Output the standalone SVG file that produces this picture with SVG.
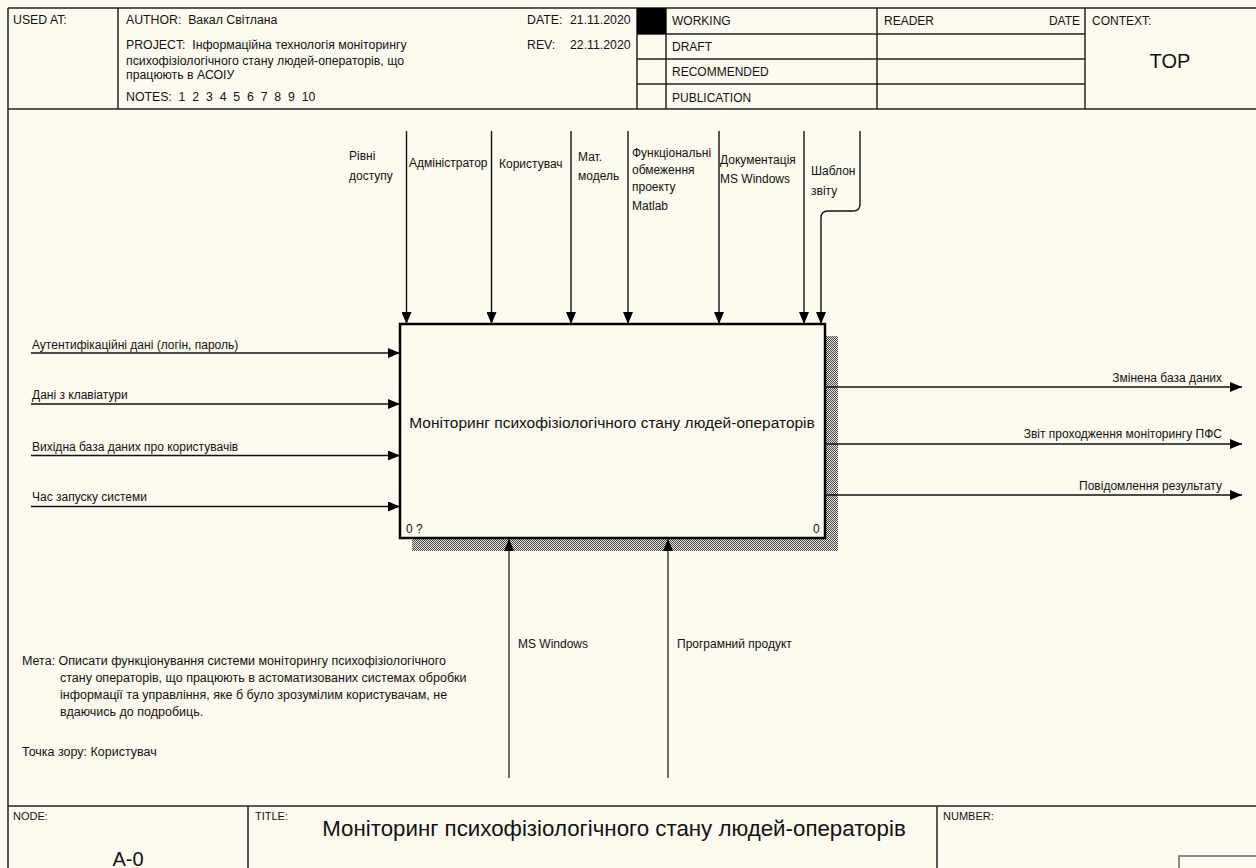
<svg xmlns="http://www.w3.org/2000/svg" width="1256" height="868" viewBox="0 0 1256 868">
<style>
text { font-family: "Liberation Sans", Arial, sans-serif; font-size: 12px; fill: #111; }
.frame { fill: none; stroke: #222; stroke-width: 1.5; }
.conn { fill: none; stroke: #111; stroke-width: 1.4; }
.mech { stroke: #333; }
.big { font-size: 20px; }
.ftitle { font-size: 22.3px; }
.title { font-size: 15.5px; }
.sm { font-size: 11px; }
.hd { font-size: 12.3px; }
.nt { font-size: 12.5px; }
</style>
<defs>
<marker id="ah" markerWidth="12" markerHeight="10" refX="12" refY="5" orient="auto" markerUnits="userSpaceOnUse">
<path d="M0,0 L12,5 L0,10 z" fill="#000"/>
</marker>
<pattern id="hatch" width="2" height="2" patternUnits="userSpaceOnUse">
<rect width="2" height="2" fill="#e8e5de"/>
<rect width="1" height="1" fill="#4a4a4a"/>
<rect x="1" y="1" width="1" height="1" fill="#4a4a4a"/>
</pattern>
</defs>
<rect width="1256" height="868" fill="#FFFAEF"/>

<g id="header">
<line class="frame" x1="8" y1="8" x2="8" y2="868"/>
<line class="frame" x1="8" y1="8" x2="1256" y2="8"/>
<line class="frame" x1="8" y1="109" x2="1256" y2="109"/>
<line class="frame" x1="118" y1="8" x2="118" y2="109"/>
<line class="frame" x1="637" y1="8" x2="637" y2="109"/>
<line class="frame" x1="666" y1="8" x2="666" y2="109"/>
<line class="frame" x1="877" y1="8" x2="877" y2="109"/>
<line class="frame" x1="1085" y1="8" x2="1085" y2="109"/>
<line class="frame" x1="637" y1="34" x2="1085" y2="34"/>
<line class="frame" x1="637" y1="59" x2="1085" y2="59"/>
<line class="frame" x1="637" y1="84" x2="1085" y2="84"/>
<rect x="637" y="8" width="29" height="26" fill="#000"/>
<text x="13" y="24" class="hd">USED AT:</text>
<text x="126" y="24" class="hd">AUTHOR:&#160; Вакал Світлана</text>
<text x="126" y="49" class="hd">PROJECT:&#160; Інформаційна технологія моніторингу</text>
<text x="126" y="65" class="hd">психофізіологічного стану людей-операторів, що</text>
<text x="126" y="79" class="hd">працюють в АСОІУ</text>
<text x="126" y="101" class="hd">NOTES:&#160; 1&#160; 2&#160; 3&#160; 4&#160; 5&#160; 6&#160; 7&#160; 8&#160; 9&#160; 10</text>
<text x="527" y="24" class="hd">DATE:</text>
<text x="570" y="24" class="hd">21.11.2020</text>
<text x="527" y="49" class="hd">REV:</text>
<text x="570" y="49" class="hd">22.11.2020</text>
<text x="672" y="25">WORKING</text>
<text x="672" y="51">DRAFT</text>
<text x="672" y="76">RECOMMENDED</text>
<text x="672" y="102">PUBLICATION</text>
<text x="884" y="25">READER</text>
<text x="1080" y="25" text-anchor="end">DATE</text>
<text x="1092" y="25">CONTEXT:</text>
<text x="1170" y="68" class="big" text-anchor="middle">TOP</text>
</g>

<g id="footer">
<line class="frame" x1="8" y1="806" x2="1256" y2="806"/>
<line class="frame" x1="248" y1="806" x2="248" y2="868"/>
<line class="frame" x1="937" y1="806" x2="937" y2="868"/>
<rect x="1179" y="856" width="100" height="20" fill="none" stroke="#666" stroke-width="1.5"/>
<text x="13" y="820" class="sm">NODE:</text>
<text x="128" y="866" class="big" text-anchor="middle">A-0</text>
<text x="255" y="820" class="sm">TITLE:</text>
<text x="614" y="836" class="ftitle" text-anchor="middle">Моніторинг психофізіологічного стану людей-операторів</text>
<text x="943" y="820" class="sm">NUMBER:</text>
</g>

<g id="A0">
<rect x="826" y="336" width="12" height="215" fill="url(#hatch)"/>
<rect x="412" y="539" width="426" height="12" fill="url(#hatch)"/>
<rect x="400" y="324" width="425" height="214" fill="#FFFAEF" stroke="#000" stroke-width="2.5"/>
<text x="612" y="428" class="title" text-anchor="middle">Моніторинг психофізіологічного стану людей-операторів</text>
<text x="406" y="533">0 ?</text>
<text x="813" y="533">0</text>
</g>

<g id="connectors">
<g id="controls">
<line class="conn" x1="406.5" y1="131" x2="406.5" y2="324" marker-end="url(#ah)"/>
<line class="conn" x1="491.5" y1="131" x2="491.5" y2="324" marker-end="url(#ah)"/>
<line class="conn" x1="571" y1="131" x2="571" y2="324" marker-end="url(#ah)"/>
<line class="conn" x1="628" y1="131" x2="628" y2="324" marker-end="url(#ah)"/>
<line class="conn" x1="719" y1="131" x2="719" y2="324" marker-end="url(#ah)"/>
<line class="conn" x1="804" y1="131" x2="804" y2="324" marker-end="url(#ah)"/>
<path class="conn" d="M860,131 V204 Q860,211 853,211 H828 Q821,211 821,218 V324" marker-end="url(#ah)"/>
</g>
<g id="inputs">
<line class="conn" x1="31" y1="353" x2="400" y2="353" marker-end="url(#ah)"/>
<line class="conn" x1="31" y1="404" x2="400" y2="404" marker-end="url(#ah)"/>
<line class="conn" x1="31" y1="455.5" x2="400" y2="455.5" marker-end="url(#ah)"/>
<line class="conn" x1="31" y1="506.5" x2="400" y2="506.5" marker-end="url(#ah)"/>
</g>
<g id="outputs">
<line class="conn" x1="825" y1="387" x2="1242" y2="387" marker-end="url(#ah)"/>
<line class="conn" x1="825" y1="444" x2="1242" y2="444" marker-end="url(#ah)"/>
<line class="conn" x1="825" y1="495" x2="1242" y2="495" marker-end="url(#ah)"/>
</g>
<g id="mechanisms">
<line class="conn mech" x1="509" y1="778" x2="509" y2="539" marker-end="url(#ah)"/>
<line class="conn mech" x1="668" y1="778" x2="668" y2="539" marker-end="url(#ah)"/>
</g>
<g id="labels">
<text x="349" y="160">Рівні</text>
<text x="349" y="180">доступу</text>
<text x="409" y="167">Адміністратор</text>
<text x="499" y="168">Користувач</text>
<text x="578" y="161">Мат.</text>
<text x="578" y="180">модель</text>
<text x="632" y="157">Функціональні</text>
<text x="632" y="174">обмеження</text>
<text x="632" y="191">проекту</text>
<text x="632" y="210">Matlab</text>
<text x="720" y="164">Документація</text>
<text x="720" y="183">MS Windows</text>
<text x="811" y="175">Шаблон</text>
<text x="811" y="195">звіту</text>
<text x="32" y="349">Аутентифікаційні дані (логін, пароль)</text>
<text x="32" y="399">Дані з клавіатури</text>
<text x="32" y="451">Вихідна база даних про користувачів</text>
<text x="32" y="501">Час запуску системи</text>
<text x="1222" y="382" text-anchor="end">Змінена база даних</text>
<text x="1222" y="438" text-anchor="end">Звіт проходження моніторингу ПФС</text>
<text x="1222" y="490" text-anchor="end">Повідомлення результату</text>
<text x="518" y="648">MS Windows</text>
<text x="677" y="648">Програмний продукт</text>
</g>
</g>

<g id="notes">
<text x="22" y="665" class="nt">Мета: Описати функціонування системи моніторингу психофізіологічного</text>
<text x="60" y="682" class="nt">стану операторів, що працюють в астоматизованих системах обробки</text>
<text x="60" y="699" class="nt">інформації та управління, яке б було зрозумілим користувачам, не</text>
<text x="60" y="716" class="nt">вдаючись до подробиць.</text>
<text x="22" y="756" class="nt">Точка зору: Користувач</text>
</g>
</svg>
